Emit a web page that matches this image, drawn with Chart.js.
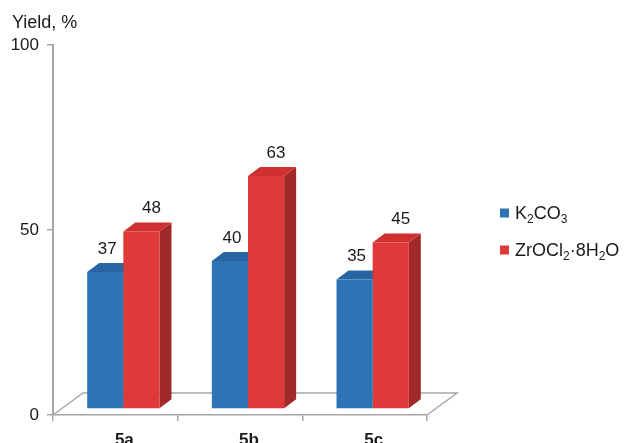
<!DOCTYPE html>
<html>
<head>
<meta charset="utf-8">
<script src="https://cdn.jsdelivr.net/npm/chart.js@4"></script>
<style>
  html, body { margin: 0; padding: 0; background: #fff; }
  #wrap { width: 629px; height: 443px; }
</style>
</head>
<body>
<div id="wrap"><canvas id="yieldChart"></canvas></div>
<script>
// data
const categories = ['5a', '5b', '5c'];
const seriesNames = ['K₂CO₃', 'ZrOCl₂·8H₂O'];
const k2co3Yield = [37, 40, 35];
const zrYield = [48, 63, 45];
const yTicks = [0, 50, 100];
const axisTitle = 'Yield, %';

const FONT = "'Liberation Sans', Arial, sans-serif";
Chart.defaults.font.family = FONT;
Chart.defaults.color = '#1a1a1a';

// 3d look
const FRONT_DX = 8, FRONT_DY = -6;     // bar fronts sit a bit into the floor
const DEPTH_DX = 12, DEPTH_DY = -9;    // bar depth
const FLOOR_DX = 30, FLOOR_DY = -22;   // floor depth
const faceColors = [
  { front: '#2e74b5', top: '#2865a4', side: '#1f5590' },
  { front: '#e0393a', top: '#cf3131', side: '#a2292a' }
];
const labelDx = [2, 10];

const SUB = { '₀': '0', '₁': '1', '₂': '2', '₃': '3', '₄': '4', '₅': '5', '₆': '6', '₇': '7', '₈': '8', '₉': '9' };

function drawChem(ctx, text, x, y, size) {
  ctx.textAlign = 'left';
  ctx.textBaseline = 'alphabetic';
  for (const ch of text) {
    if (SUB[ch]) {
      ctx.font = Math.round(size * 0.66) + 'px ' + FONT;
      ctx.fillText(SUB[ch], x, y + size * 0.22);
      x += ctx.measureText(SUB[ch]).width;
    } else {
      ctx.font = size + 'px ' + FONT;
      ctx.fillText(ch, x, y);
      x += ctx.measureText(ch).width;
    }
  }
}

function poly(ctx, pts, fill) {
  ctx.beginPath();
  ctx.moveTo(pts[0][0], pts[0][1]);
  for (let i = 1; i < pts.length; i++) ctx.lineTo(pts[i][0], pts[i][1]);
  ctx.closePath();
  ctx.fillStyle = fill;
  ctx.fill();
}

const threeD = {
  id: 'threeD',
  beforeDatasetsDraw(chart) {
    const { ctx, chartArea: a } = chart;
    // floor
    ctx.save();
    ctx.strokeStyle = '#a6a6a6';
    ctx.lineWidth = 1.5;
    ctx.beginPath();
    ctx.moveTo(a.left, a.bottom);
    ctx.lineTo(a.left + FLOOR_DX, a.bottom + FLOOR_DY);
    ctx.lineTo(a.right + FLOOR_DX, a.bottom + FLOOR_DY);
    ctx.lineTo(a.right, a.bottom);
    ctx.stroke();
    ctx.restore();

    ctx.save();
    ctx.translate(FRONT_DX, FRONT_DY);
    // side and top faces first, fronts are drawn over them by the chart
    chart.data.datasets.forEach((ds, di) => {
      const c = faceColors[di];
      chart.getDatasetMeta(di).data.forEach(bar => {
        const x0 = bar.x - bar.width / 2, x1 = bar.x + bar.width / 2;
        const yt = bar.y, yb = bar.base;
        poly(ctx, [[x1, yt], [x1 + DEPTH_DX, yt + DEPTH_DY], [x1 + DEPTH_DX, yb + DEPTH_DY], [x1, yb]], c.side);
        poly(ctx, [[x0, yt], [x0 + DEPTH_DX, yt + DEPTH_DY], [x1 + DEPTH_DX, yt + DEPTH_DY], [x1, yt]], c.top);
      });
    });
  },
  afterDatasetsDraw(chart) {
    const { ctx } = chart;
    // value labels (still in the shifted frame)
    ctx.fillStyle = '#1a1a1a';
    ctx.font = '17px ' + FONT;
    ctx.textAlign = 'center';
    ctx.textBaseline = 'middle';
    chart.data.datasets.forEach((ds, di) => {
      chart.getDatasetMeta(di).data.forEach((bar, i) => {
        ctx.fillText(String(ds.data[i]), bar.x + labelDx[di], bar.y - 23);
      });
    });
    ctx.restore();

    // axis title
    ctx.save();
    ctx.fillStyle = '#1a1a1a';
    ctx.font = '18px ' + FONT;
    ctx.textAlign = 'left';
    ctx.textBaseline = 'alphabetic';
    ctx.fillText(axisTitle, 12, 28);

    // legend
    const legendY = [213, 250];
    seriesNames.forEach((name, i) => {
      ctx.fillStyle = faceColors[i].front;
      ctx.fillRect(500, legendY[i] - 4.5, 9, 9);
      ctx.fillStyle = '#1a1a1a';
      drawChem(ctx, name, 515, legendY[i] + 6, 18);
    });
    ctx.restore();
  }
};

new Chart(document.getElementById('yieldChart'), {
  type: 'bar',
  data: {
    labels: categories,
    datasets: [
      { label: seriesNames[0], data: k2co3Yield, backgroundColor: faceColors[0].front },
      { label: seriesNames[1], data: zrYield, backgroundColor: faceColors[1].front }
    ]
  },
  options: {
    responsive: true,
    maintainAspectRatio: false,
    animation: false,
    layout: { padding: { top: 45, right: 202, left: 0, bottom: 0 } },
    datasets: { bar: { categoryPercentage: 0.58, barPercentage: 1, borderWidth: 0 } },
    plugins: { legend: { display: false }, tooltip: { enabled: false } },
    scales: {
      x: {
        grid: { drawOnChartArea: false, drawTicks: true, tickLength: 6, color: '#a6a6a6', lineWidth: 1.5 },
        border: { color: '#a6a6a6', width: 1.5 },
        ticks: { font: { size: 17, weight: 'bold' }, color: '#1a1a1a', padding: 9, labelOffset: 9 },
        afterFit: s => { s.height = 28; }
      },
      y: {
        min: 0,
        max: 100,
        afterBuildTicks: s => { s.ticks = yTicks.map(v => ({ value: v })); },
        grid: { drawOnChartArea: false, drawTicks: true, tickLength: 6, color: '#a6a6a6', lineWidth: 1.5 },
        border: { color: '#a6a6a6', width: 2 },
        ticks: { font: { size: 17 }, color: '#1a1a1a', padding: 8 },
        afterFit: s => { s.width = 53; }
      }
    }
  },
  plugins: [threeD]
});
</script>
</body>
</html>
